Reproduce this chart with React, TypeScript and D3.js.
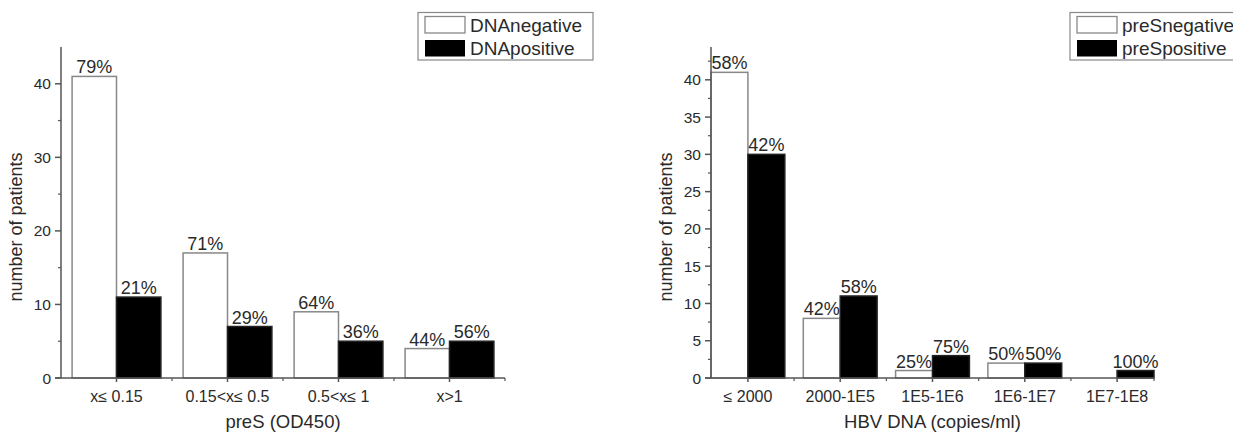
import * as d3 from "d3";

// left panel: preS vs DNA status
const preSCats = ["x≤ 0.15", "0.15<x≤ 0.5", "0.5<x≤ 1", "x>1"];
const dnaNegative = [41, 17, 9, 4];
const dnaPositive = [11, 7, 5, 5];
const dnaNegPct = ["79%", "71%", "64%", "44%"];
const dnaPosPct = ["21%", "29%", "36%", "56%"];
const leftYTicks = [0, 10, 20, 30, 40];
const leftYMinor = [5, 15, 25, 35];

// right panel: HBV DNA vs preS status
const hbvCats = ["≤ 2000", "2000-1E5", "1E5-1E6", "1E6-1E7", "1E7-1E8"];
const preSNegative = [41, 8, 1, 2, 0];
const preSPositive = [30, 11, 3, 2, 1];
const preSNegPct = ["58%", "42%", "25%", "50%", ""];
const preSPosPct = ["42%", "58%", "75%", "50%", "100%"];
const rightYTicks = [0, 5, 10, 15, 20, 25, 30, 35, 40];
const rightYMinor = [2.5, 7.5, 12.5, 17.5, 22.5, 27.5, 32.5, 37.5, 42.5];

const FONT = "'Liberation Sans', Arial, sans-serif";
const TXT = "#2a2a2a";
const AX = "#555";

type PanelProps = {
  cats: string[];
  neg: number[];
  pos: number[];
  negPct: string[];
  posPct: string[];
  xDomain: [number, number];
  xRange: [number, number];
  yMax: number;
  yTicks: number[];
  yMinor: number[];
  xTitle: string;
  yLabelX: number;
  legend: [string, string];
  legendX: number;
  legendW: number;
};

function Panel(p: PanelProps) {
  const x = d3.scaleLinear().domain(p.xDomain).range(p.xRange);
  const y = d3.scaleLinear().domain([0, p.yMax]).range([378, 47]);
  const barW = 0.4;
  const x0 = p.xRange[0];
  const centers = p.cats.map((_, i) => i + 1);
  const minorX = d3.range(1.5, p.cats.length, 1);
  const midX = (p.xRange[0] + p.xRange[1]) / 2;

  return (
    <g fontFamily={FONT} fill={TXT}>
      {/* bars */}
      {centers.map((c, i) => (
        <g key={i}>
          {p.neg[i] > 0 && (
            <rect x={x(c - barW)} y={y(p.neg[i])} width={x(c) - x(c - barW)}
              height={y(0) - y(p.neg[i])} fill="#fff" stroke="#888" strokeWidth={1.5} />
          )}
          <rect x={x(c)} y={y(p.pos[i])} width={x(c + barW) - x(c)}
            height={y(0) - y(p.pos[i])} fill="#000" stroke="#222" strokeWidth={1.5} />
          {p.negPct[i] && (
            <text x={x(c - barW / 2)} y={y(p.neg[i]) - 3} fontSize={18} textAnchor="middle">{p.negPct[i]}</text>
          )}
          <text x={x(c + barW / 2)} y={y(p.pos[i]) - 3} fontSize={18} textAnchor="middle">{p.posPct[i]}</text>
        </g>
      ))}

      {/* y axis */}
      <line x1={x0} x2={x0} y1={y(p.yMax)} y2={y(0)} stroke={AX} strokeWidth={1.5} />
      {p.yTicks.map((t) => (
        <g key={t}>
          <line x1={x0 - 6} x2={x0} y1={y(t)} y2={y(t)} stroke={AX} strokeWidth={1.5} />
          <text x={x0 - 10} y={y(t) + 5.5} fontSize={15.5} textAnchor="end">{t}</text>
        </g>
      ))}
      {p.yMinor.filter((t) => t < p.yMax).map((t) => (
        <line key={t} x1={x0 - 3} x2={x0} y1={y(t)} y2={y(t)} stroke={AX} strokeWidth={1.2} />
      ))}
      <text transform={`translate(${p.yLabelX},227) rotate(-90)`} fontSize={18} textAnchor="middle">
        number of patients
      </text>

      {/* x axis */}
      <line x1={p.xRange[0] - 6} x2={p.xRange[1]} y1={y(0)} y2={y(0)} stroke={AX} strokeWidth={1.5} />
      {centers.map((c, i) => (
        <g key={i}>
          <line x1={x(c)} x2={x(c)} y1={y(0)} y2={y(0) + 4} stroke={AX} strokeWidth={1.5} />
          <text x={x(c)} y={401.5} fontSize={16} textAnchor="middle">{p.cats[i]}</text>
        </g>
      ))}
      {minorX.map((m) => (
        <line key={m} x1={x(m)} x2={x(m)} y1={y(0)} y2={y(0) + 3} stroke={AX} strokeWidth={1.2} />
      ))}
      <line x1={p.xRange[1]} x2={p.xRange[1]} y1={y(0)} y2={y(0) + 3} stroke={AX} strokeWidth={1.2} />
      <text x={midX} y={427.5} fontSize={18.5} textAnchor="middle">{p.xTitle}</text>

      {/* legend */}
      <rect x={p.legendX} y={12.5} width={p.legendW} height={47.5} fill="#fff" stroke="#888" strokeWidth={1.2} />
      <rect x={p.legendX + 7} y={16.5} width={40} height={16.5} fill="#fff" stroke="#888" strokeWidth={1.3} />
      <rect x={p.legendX + 7} y={40} width={40} height={16.5} fill="#000" />
      <text x={p.legendX + 52} y={32} fontSize={19}>{p.legend[0]}</text>
      <text x={p.legendX + 52} y={55} fontSize={19}>{p.legend[1]}</text>
    </g>
  );
}

export default function App() {
  return (
    <svg width={1233} height={433} style={{ position: "absolute", left: 0, top: 0, background: "#fff" }}>
      <rect width={1233} height={433} fill="#fff" />
      <Panel
        cats={preSCats} neg={dnaNegative} pos={dnaPositive} negPct={dnaNegPct} posPct={dnaPosPct}
        xDomain={[0.5, 4.5]} xRange={[61, 505]} yMax={45} yTicks={leftYTicks} yMinor={leftYMinor}
        xTitle="preS (OD450)" yLabelX={22} legend={["DNAnegative", "DNApositive"]} legendX={418} legendW={175}
      />
      <Panel
        cats={hbvCats} neg={preSNegative} pos={preSPositive} negPct={preSNegPct} posPct={preSPosPct}
        xDomain={[0.6, 5.4]} xRange={[711, 1154]} yMax={44.4} yTicks={rightYTicks} yMinor={rightYMinor}
        xTitle="HBV DNA (copies/ml)" yLabelX={672} legend={["preSnegative", "preSpositive"]} legendX={1070} legendW={180}
      />
    </svg>
  );
}
